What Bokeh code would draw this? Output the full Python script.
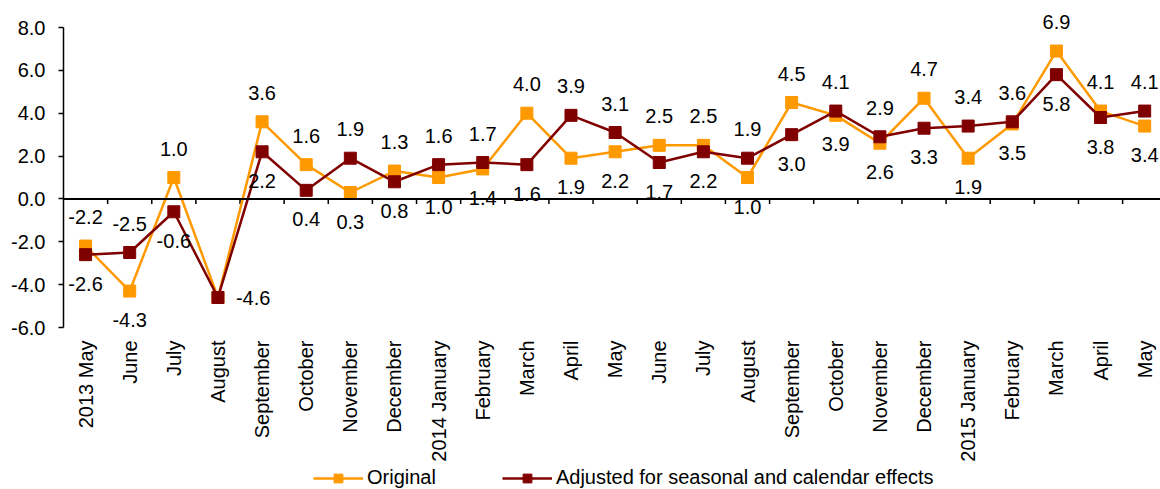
import math
from bokeh.plotting import figure
from bokeh.models import (ColumnDataSource, Range1d, FixedTicker, NumeralTickFormatter,
                          Span, Legend, LegendItem, LinearAxis)
from bokeh.core.properties import value
from bokeh.embed import file_html
from bokeh.resources import INLINE

# ---- data ----
categories = ["2013 May", "June", "July", "August", "September", "October", "November",
              "December", "2014 January", "February", "March", "April", "May", "June",
              "July", "August", "September", "October", "November", "December",
              "2015 January", "February", "March", "April", "May"]
original = [-2.2, -4.3, 1.0, -4.6, 3.6, 1.6, 0.3, 1.3, 1.0, 1.4, 4.0, 1.9, 2.2, 2.5,
            2.5, 1.0, 4.5, 3.9, 2.6, 4.7, 1.9, 3.5, 6.9, 4.1, 3.4]
adjusted = [-2.6, -2.5, -0.6, -4.6, 2.2, 0.4, 1.9, 0.8, 1.6, 1.7, 1.6, 3.9, 3.1, 1.7,
            2.2, 1.9, 3.0, 4.1, 2.9, 3.3, 3.4, 3.6, 5.8, 3.8, 4.1]
y_ticks = [-6, -4, -2, 0, 2, 4, 6, 8]

FONT = "Liberation Sans"
FS = "20px"
ORANGE = "#FF9900"
DARKRED = "#800000"

n = len(categories)
xs = list(range(n))

YMIN, YMAX = -6, 8
PX_PER_UNIT = 300 / (YMAX - YMIN)
W, H = 1160, 489
AXIS_TOP_PX = 27               # pixel row of the 8.0 tick
AXIS_BOT_PX = AXIS_TOP_PX + 300  # pixel row of the -6.0 tick
BORDER_L = 63
FRAME_W = W - BORDER_L
PX_PER_CAT = 44.13

y_start = YMIN - (H - AXIS_BOT_PX) / PX_PER_UNIT
y_end = YMAX + AXIS_TOP_PX / PX_PER_UNIT

p = figure(width=W, height=H, output_backend="svg", toolbar_location=None,
           x_range=Range1d(-0.5, -0.5 + FRAME_W / PX_PER_CAT),
           y_range=Range1d(y_start, y_end),
           min_border_left=BORDER_L, min_border_right=0, min_border_top=0,
           min_border_bottom=0,
           x_axis_location=None, y_axis_location=None)
p.outline_line_color = None
p.grid.visible = False
p.background_fill_color = "white"
p.border_fill_color = "white"

# y axis
yaxis = LinearAxis(ticker=FixedTicker(ticks=y_ticks), bounds=(YMIN, YMAX),
                   formatter=NumeralTickFormatter(format="0.0"))
yaxis.axis_line_color = "black"
yaxis.axis_line_width = 1.5
yaxis.major_tick_line_color = "black"
yaxis.major_tick_line_width = 1.5
yaxis.major_tick_out = 5
yaxis.major_tick_in = 0
yaxis.minor_tick_line_color = None
yaxis.major_label_standoff = 13
yaxis.major_label_text_font = FONT
yaxis.major_label_text_font_size = FS
yaxis.major_label_text_color = "black"
p.add_layout(yaxis, "left")

# zero line with category-boundary ticks
p.add_layout(Span(location=0, dimension="width", line_color="black", line_width=2))
tick_len = 5 / PX_PER_UNIT
bx = [i + 0.5 for i in range(n)]
p.segment(x0=bx, y0=[0] * n, x1=bx, y1=[-tick_len] * n, line_color="black", line_width=1.5)

# category labels below the plot, vertical (reading bottom to top)
csrc = ColumnDataSource(dict(x=xs, y=[YMIN] * n, t=categories))
p.text(x="x", y="y", text="t", y_offset=13, angle=math.pi / 2, text_align="right",
       text_baseline="middle", text_font=value(FONT), text_font_size=value(FS),
       text_color="black", source=csrc)

# series
r1l = p.line(xs, original, line_color=ORANGE, line_width=2.5)
r1m = p.scatter(xs, original, marker="square", size=12, fill_color=ORANGE, line_color=ORANGE)
r2l = p.line(xs, adjusted, line_color=DARKRED, line_width=2.5)
r2m = p.scatter(xs, adjusted, marker="square", size=12, fill_color=DARKRED, line_color=DARKRED)

# data labels: higher value above, lower value below, equal -> one label to the right
lx, ly, lt, lxo, lyo, la = [], [], [], [], [], []
OFF = 29
for i in xs:
    o, a = original[i], adjusted[i]
    if round(o, 1) == round(a, 1):
        lx.append(i); ly.append(a); lt.append(f"{a:.1f}"); lxo.append(18); lyo.append(0); la.append("left")
        continue
    hi, lo = (o, a) if o > a else (a, o)
    lx.append(i); ly.append(hi); lt.append(f"{hi:.1f}"); lxo.append(0); lyo.append(-OFF); la.append("center")
    lx.append(i); ly.append(lo); lt.append(f"{lo:.1f}"); lxo.append(0); lyo.append(OFF); la.append("center")

lsrc = ColumnDataSource(dict(x=lx, y=ly, t=lt, xo=lxo, yo=lyo, a=la))
p.text(x="x", y="y", text="t", x_offset="xo", y_offset="yo", text_align="a",
       text_baseline="middle", text_font=value(FONT), text_font_size=value(FS),
       text_color="black", source=lsrc)

legend = Legend(items=[LegendItem(label="Original", renderers=[r1l, r1m]),
                       LegendItem(label="Adjusted for seasonal and calendar effects",
                                  renderers=[r2l, r2m])],
                orientation="horizontal", location=(250, 0))
legend.border_line_color = None
legend.background_fill_alpha = 0
legend.padding = 0
legend.margin = 0
legend.spacing = 66
legend.glyph_width = 50
legend.glyph_height = 22
legend.label_standoff = 4
legend.label_height = 22
legend.label_text_font = FONT
legend.label_text_font_size = FS
legend.label_text_color = "black"
p.add_layout(legend, "center")

open("out.html", "w").write(file_html(p, INLINE))
